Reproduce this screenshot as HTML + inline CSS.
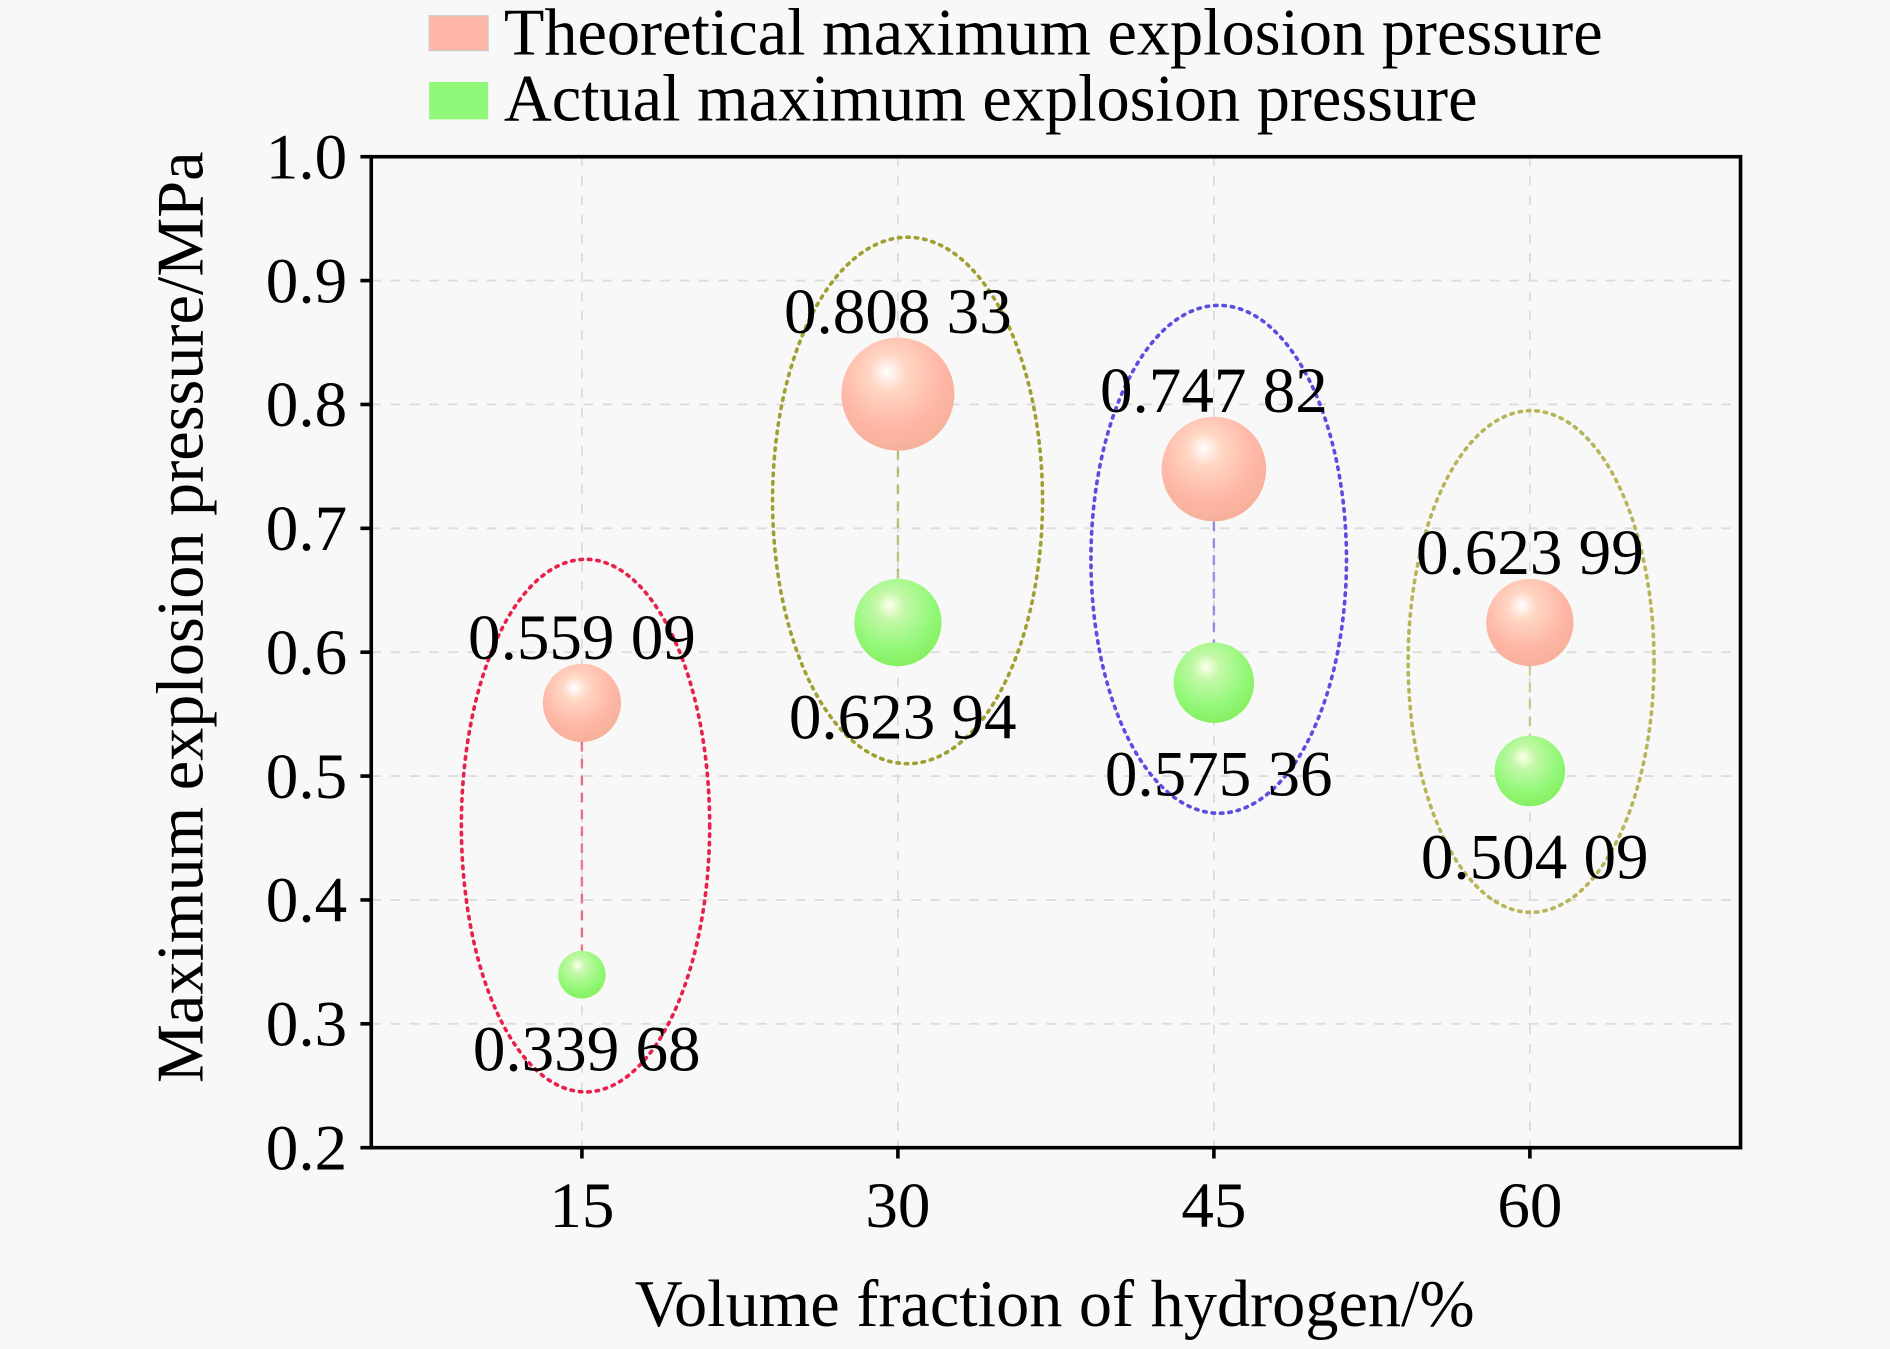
<!DOCTYPE html>
<html><head><meta charset="utf-8"><style>
html,body{margin:0;padding:0;background:#f8f8f8;}
svg{display:block;font-family:"Liberation Serif",serif;}
</style></head><body>
<svg id="chart" width="1890" height="1349" viewBox="0 0 1568 1119" preserveAspectRatio="none" xmlns="http://www.w3.org/2000/svg">
<defs>
<radialGradient id="gRed" cx="0.45" cy="0.35" r="0.65" fx="0.4" fy="0.3">
<stop offset="0" stop-color="#ffffff"/><stop offset="0.25" stop-color="#ffd6c4"/><stop offset="0.7" stop-color="#ffb7a6"/><stop offset="1" stop-color="#f5b09a"/></radialGradient>
<radialGradient id="gGreen" cx="0.45" cy="0.35" r="0.65" fx="0.4" fy="0.3">
<stop offset="0" stop-color="#ffffee"/><stop offset="0.25" stop-color="#c4f8a8"/><stop offset="0.7" stop-color="#94f87a"/><stop offset="1" stop-color="#86f060"/></radialGradient>
</defs>
<rect width="1568" height="1119" fill="#f8f8f8"/>
<g id="grid"></g>
<g id="ellipses"></g>
<g id="marks"></g>
<rect x="308" y="130" width="1136" height="822" fill="none" stroke="#000" stroke-width="3"/>
<g id="axes"></g>
<text x="875" y="1100" font-size="55" text-anchor="middle">Volume fraction of hydrogen/%</text>
<text transform="translate(168,512) rotate(-90)" font-size="55" text-anchor="middle">Maximum explosion pressure/MPa</text>
<g>
<rect x="356" y="13" width="49" height="29" fill="#ffb8a8" stroke="#ccc" stroke-width="1"/>
<text x="418" y="45" font-size="55">Theoretical maximum explosion pressure</text>
<rect x="356" y="68" width="49" height="31" fill="#90f878"/>
<text x="418" y="100" font-size="55">Actual maximum explosion pressure</text>
</g>
</svg>
<script>
const categories = [15, 30, 45, 60];
const theoretical = [0.55909, 0.80833, 0.74782, 0.62399];
const actual = [0.33968, 0.62394, 0.57536, 0.50409];
const theoreticalLabels = ["0.559 09", "0.808 33", "0.747 82", "0.623 99"];
const actualLabels = ["0.339 68", "0.623 94", "0.575 36", "0.504 09"];
const ellipseTop = [0.675, 0.935, 0.88, 0.795];
const ellipseBottom = [0.245, 0.51, 0.47, 0.39];
const yTicks = [0.2, 0.3, 0.4, 0.5, 0.6, 0.7, 0.8, 0.9, 1.0];
const yTickLabels = ["0.2","0.3","0.4","0.5","0.6","0.7","0.8","0.9","1.0"];
const ellipseColors = ["#e8204a", "#a0a030", "#5a4ee0", "#b8b458"];

const NS = "http://www.w3.org/2000/svg";
const L = 308, R = 1444, T = 130, B = 952;
const xs = v => L + (v - 5) / 65 * (R - L);
const ys = v => B - (v - 0.2) / 0.8 * (B - T);
const rad = v => 58 * v;
const ellRx = [103, 112, 106, 102];
const ellDx = [3, 8, 4, 1];
function mk(tag, attrs, parent) {
  const e = document.createElementNS(NS, tag);
  for (const k in attrs) e.setAttribute(k, attrs[k]);
  parent.appendChild(e); return e;
}
const grid = document.getElementById('grid'), axes = document.getElementById('axes');
const ell = document.getElementById('ellipses'), marks = document.getElementById('marks');
yTicks.forEach((t, i) => {
  const y = ys(t);
  if (i > 0 && i < yTicks.length - 1) {
    const g = mk('line', {x1: L, x2: R, y1: y, y2: y, stroke: '#dcdcdc', 'stroke-width': 1.5, 'stroke-dasharray': '8 8'}, grid);
    
    
  }
  const tk = mk('line', {x1: L - 9, x2: L, y1: y, y2: y, stroke: '#000', 'stroke-width': 3}, axes);
  
  
  const tx = mk('text', {x: L - 20, y: y + 18, 'font-size': 54, 'text-anchor': 'end'}, axes);
  tx.textContent = yTickLabels[i];
  
  
});
categories.forEach((c, i) => {
  const x = xs(c);
  const g = mk('line', {x1: x, x2: x, y1: T, y2: B, stroke: '#dcdcdc', 'stroke-width': 1.5, 'stroke-dasharray': '8 8'}, grid);
  
  
  const tk = mk('line', {x1: x, x2: x, y1: B, y2: B + 9, stroke: '#000', 'stroke-width': 3}, axes);
  
  
  const tx = mk('text', {x: x, y: B + 66, 'font-size': 54, 'text-anchor': 'middle'}, axes);
  tx.textContent = String(c);
  
  

  const yt = ys(theoretical[i]), ya = ys(actual[i]);
  const rt = rad(theoretical[i]), ra = rad(actual[i]);
  const top = ys(ellipseTop[i]), bot = ys(ellipseBottom[i]);
  const e = mk('ellipse', {cx: x + ellDx[i], cy: (top + bot) / 2, rx: ellRx[i], ry: (bot - top) / 2, fill: 'none', stroke: ellipseColors[i], 'stroke-width': 3, 'stroke-dasharray': '2 5', 'stroke-linecap': 'round'}, ell);
  
  
  const ln = mk('line', {x1: x, x2: x, y1: yt + rt, y2: ya - ra, stroke: ellipseColors[i], 'stroke-opacity': 0.6, 'stroke-width': 2, 'stroke-dasharray': '8 6'}, marks);
  
  
  const bt = mk('circle', {cx: x, cy: yt, r: rt, fill: 'url(#gRed)'}, marks);
  
  
  const ba = mk('circle', {cx: x, cy: ya, r: ra, fill: 'url(#gGreen)'}, marks);
  
  
  const lt = mk('text', {x: x, y: yt - rt - 4, 'font-size': 54, 'text-anchor': 'middle'}, marks);
  lt.textContent = theoreticalLabels[i];
  
  
  const la = mk('text', {x: x + 4, y: ya + ra + 60, 'font-size': 54, 'text-anchor': 'middle'}, marks);
  la.textContent = actualLabels[i];
  
  
});
</script>
</body></html>
